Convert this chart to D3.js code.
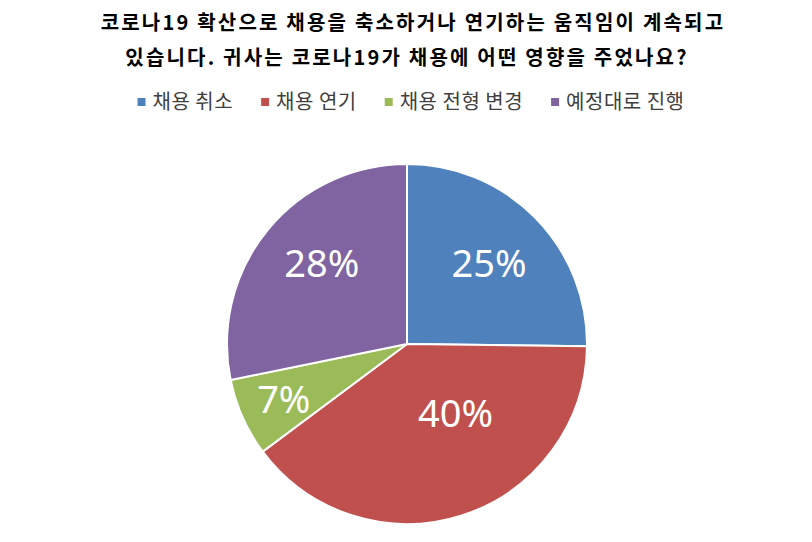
<!DOCTYPE html>
<html>
<head>
<meta charset="utf-8">
<script src="https://cdn.jsdelivr.net/npm/d3@7"></script>
<style>
  body { margin: 0; background: #fff; }
</style>
</head>
<body>
<div id="chart"></div>
<script>

const titleLines = [
  '코로나19 확산으로 채용을 축소하거나 연기하는 움직임이 계속되고',
  '있습니다. 귀사는 코로나19가 채용에 어떤 영향을 주었나요?'
];
const categories = [ '채용 취소', '채용 연기', '채용 전형 변경', '예정대로 진행' ];
const shares = [ 25.2, 39.6, 7.0, 28.2 ];
const colors = [ '#4F81BD', '#C0504D', '#9BBB59', '#8064A2' ];

const figure_width = 812;
const figure_height = 542;

const titleStyle = 'font-size:20px; font-weight:bold; letter-spacing:2.2px; font-family:"Noto Sans CJK KR", sans-serif; fill:#000;';
const legendStyle = 'font-size:20px; letter-spacing:0.5px; font-family:"Noto Sans CJK KR", sans-serif; fill:#404040;';
const labelStyle = 'font-size:38px; font-family:"Noto Sans", sans-serif; fill:#fff;';

// where each label sits inside its slice: radius fraction, position along the arc
const labelLayout = [ { r: 0.64, t: 0.5 }, { r: 0.47, t: 0.38 }, { r: 0.75, t: 0.5 }, { r: 0.65, t: 0.54 } ];

const svg = d3.select( 'div#chart' )
  .append( 'svg' )
    .attr( 'width', figure_width )
    .attr( 'height', figure_height );

// Title
svg.append( 'g' )
  .selectAll( 'text' )
  .data( titleLines )
  .enter()
  .append( 'text' )
    .attr( 'x', function(d,i){ return i == 0 ? 413 : 407 } )
    .attr( 'y', function(d,i){ return 30 + i*35 } )
    .attr( 'text-anchor', 'middle' )
    .attr( 'style', titleStyle )
    .text( function(d){ return d } );

// Legend, laid out from measured text widths and centred
const size = 8;
const legend = svg.append( 'g' );
const items = legend.selectAll( 'g' )
  .data( categories )
  .enter()
  .append( 'g' );
items.append( 'rect' )
  .attr( 'width', size )
  .attr( 'height', size )
  .attr( 'y', -size/2 )
  .style( 'fill', function(d,i){ return colors[i] } );
items.append( 'text' )
  .attr( 'x', size + 7 )
  .attr( 'y', 7 )
  .attr( 'style', legendStyle )
  .text( function(d){ return d } );

let offset = 0;
const gap = 28;
items.each( function() {
  const w = this.getBBox().width;
  d3.select( this ).attr( 'transform', 'translate(' + offset + ',0)' );
  offset += w + gap;
});
const legendWidth = offset - gap;
legend.attr( 'transform', 'translate(' + ( 411 - legendWidth/2 ) + ', 102)' );

// Pie
const radius = 180;
const cx = 407, cy = 344;
const pie = d3.pie().sort( null ).value( function(d){ return d } );
const arcs = pie( shares );
const arc = d3.arc().innerRadius( 0 ).outerRadius( radius );
const total = d3.sum( shares );

const plot = svg.append( 'g' )
  .attr( 'transform', 'translate(' + cx + ',' + cy + ')' );

plot.selectAll( 'path' )
  .data( arcs )
  .enter()
  .append( 'path' )
    .attr( 'd', arc )
    .attr( 'fill', function(d,i){ return colors[i] } )
    .attr( 'stroke', '#fff' )
    .attr( 'stroke-width', 2 );

plot.selectAll( 'text' )
  .data( arcs )
  .enter()
  .append( 'text' )
    .attr( 'transform', function(d,i){
      const a = d.startAngle + ( d.endAngle - d.startAngle ) * labelLayout[i].t;
      const r = radius * labelLayout[i].r;
      return 'translate(' + ( r*Math.sin(a) ) + ',' + ( -r*Math.cos(a) ) + ')';
    })
    .attr( 'text-anchor', 'middle' )
    .attr( 'dy', '0.36em' )
    .attr( 'style', labelStyle )
    .text( function(d){ return Math.round( d.value / total * 100 ) + '%' } );

</script>
</body>
</html>
